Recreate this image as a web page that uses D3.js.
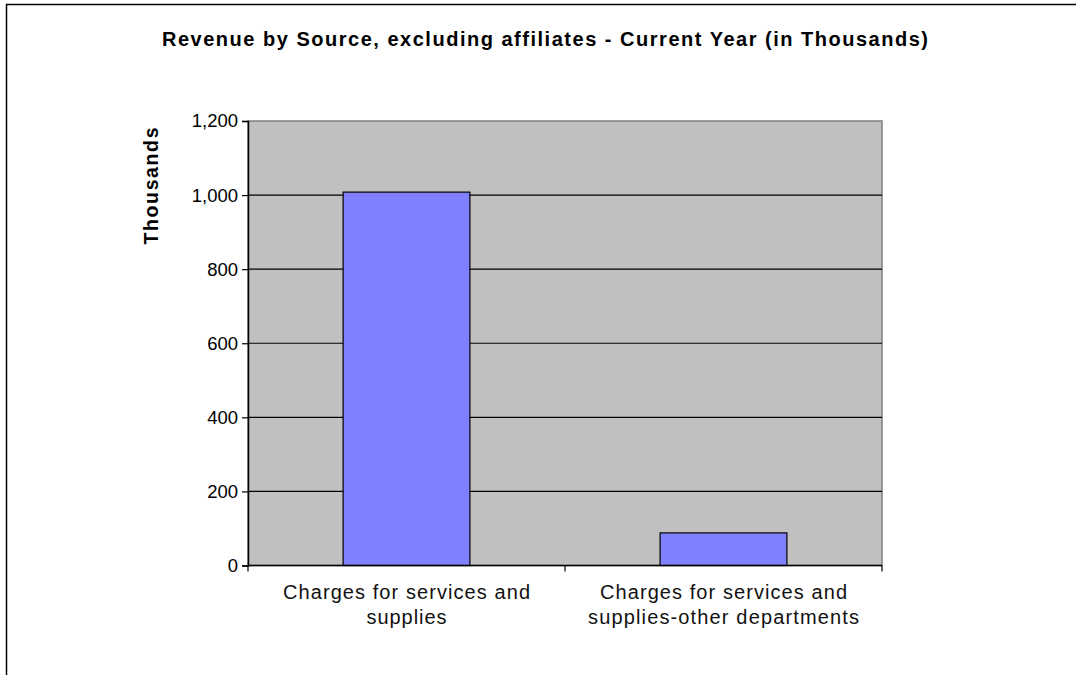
<!DOCTYPE html>
<html>
<head>
<meta charset="utf-8">
<script src="https://cdn.jsdelivr.net/npm/d3@7/dist/d3.min.js"></script>
<style>
html,body{margin:0;padding:0;background:#fff;}
svg{display:block;font-family:"Liberation Sans",Arial,sans-serif;}
</style>
</head>
<body>
<svg id="chart" width="1076" height="675"></svg>
<script>
const categories = [
  ["Charges for services and", "supplies"],
  ["Charges for services and", "supplies-other departments"]
];
const values = [1008, 88];
const yTicks = [0, 200, 400, 600, 800, 1000, 1200];
const title = "Revenue by Source, excluding affiliates - Current Year (in Thousands)";
const yTitle = "Thousands";

const svg = d3.select("#chart");
const W = 1076, H = 675;
const m = {left: 248, top: 121, right: 882, bottom: 565.5};

// outer frame
svg.append("rect").attr("x", 6.5).attr("y", 4.5).attr("width", W).attr("height", H)
  .attr("fill", "none").attr("stroke", "#000").attr("stroke-width", 1.5);

const x = d3.scaleBand().domain(d3.range(categories.length))
  .range([m.left, m.right]).paddingInner(0.6).paddingOuter(0.3);
const xOuter = d3.scaleBand().domain(d3.range(categories.length))
  .range([m.left, m.right]);
const y = d3.scaleLinear().domain([0, 1200]).range([m.bottom, m.top]);

// plot background
svg.append("rect").attr("x", m.left).attr("y", m.top)
  .attr("width", m.right - m.left).attr("height", m.bottom - m.top)
  .attr("fill", "#c0c0c0").attr("stroke", "#808080").attr("stroke-width", 1.5);

// gridlines
svg.append("g").selectAll("line").data(yTicks.filter(d => d > 0 && d < 1200)).join("line")
  .attr("x1", m.left).attr("x2", m.right)
  .attr("y1", d => y(d)).attr("y2", d => y(d))
  .attr("stroke", "#000").attr("stroke-width", 1.2);

// bars
svg.append("g").selectAll("rect").data(values).join("rect")
  .attr("x", (d, i) => x(i)).attr("width", x.bandwidth())
  .attr("y", d => y(d)).attr("height", d => y(0) - y(d))
  .attr("fill", "#8080ff").attr("stroke", "#000").attr("stroke-width", 1.2);

// y axis
const yAxis = d3.axisLeft(y).tickValues(yTicks).tickSize(6).tickPadding(4)
  .tickFormat(d3.format(","));
const gy = svg.append("g").attr("transform", `translate(${m.left},0)`).call(yAxis);
gy.select(".domain").attr("stroke", "#000").attr("stroke-width", 1.5);
gy.selectAll(".tick line").attr("stroke", "#000").attr("stroke-width", 1.2);
gy.selectAll(".tick text").attr("font-size", 18.5).attr("fill", "#000")
  .attr("font-family", "Liberation Sans, Arial, sans-serif");

// x axis baseline and ticks
svg.append("line").attr("x1", m.left).attr("x2", m.right)
  .attr("y1", y(0)).attr("y2", y(0)).attr("stroke", "#000").attr("stroke-width", 1.5);
const bounds = d3.range(categories.length + 1).map(i =>
  i < categories.length ? xOuter(i) : xOuter(i - 1) + xOuter.bandwidth());
svg.append("g").selectAll("line").data(bounds).join("line")
  .attr("x1", d => d).attr("x2", d => d)
  .attr("y1", y(0)).attr("y2", y(0) + 6)
  .attr("stroke", "#000").attr("stroke-width", 1.2);

// category labels
const lineLen = [[247, 80], [247, 271]];
const lab = svg.append("g").selectAll("text").data(categories).join("text")
  .attr("text-anchor", "middle").attr("font-size", 20).attr("fill", "#111");
lab.each(function(d, i) {
  const t = d3.select(this);
  d.forEach((line, k) => {
    t.append("tspan").attr("x", x(i) + x.bandwidth() / 2)
      .attr("y", 599 + k * 25)
      .attr("textLength", lineLen[i][k]).attr("lengthAdjust", "spacing")
      .text(line);
  });
});

// title
svg.append("text").attr("x", 545).attr("y", 46).attr("text-anchor", "middle")
  .attr("font-size", 20).attr("font-weight", "bold").attr("fill", "#000")
  .attr("textLength", 766).attr("lengthAdjust", "spacing").text(title);

// y title
svg.append("text").attr("transform", "translate(158,186) rotate(-90)")
  .attr("text-anchor", "middle").attr("font-size", 19.5).attr("font-weight", "bold")
  .attr("fill", "#000").attr("textLength", 117).attr("lengthAdjust", "spacing")
  .text(yTitle);
</script>
</body>
</html>
